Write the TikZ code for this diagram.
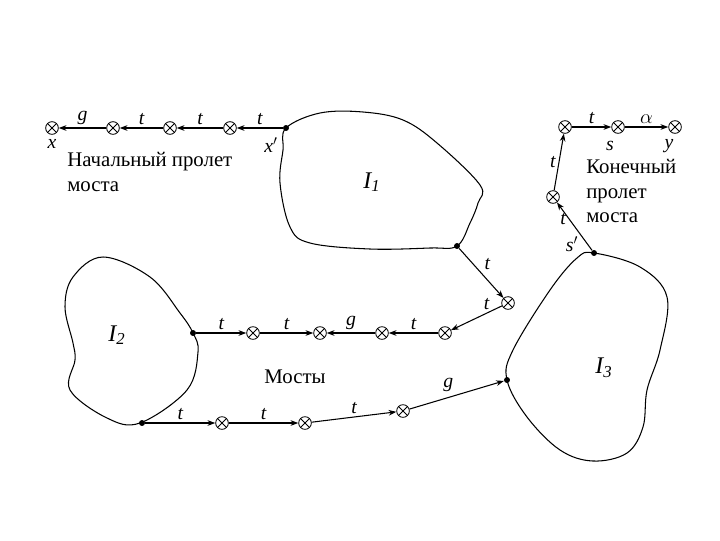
\documentclass[tikz,border=0pt]{standalone}
\usepackage{fontspec}
\setmainfont{Liberation Serif}
\usetikzlibrary{arrows.meta}
\tikzset{
    bridgept/.style={circle,draw,semithick,inner sep=0pt,minimum size=9pt,
        path picture={\draw[semithick] (path picture bounding box.north west) -- (path picture bounding box.south east)
            (path picture bounding box.north east) -- (path picture bounding box.south west);}},
    endpt/.style={circle,fill=black,inner sep=1.5pt},
    link/.style={->,line width=0.75pt},
    island/.style={line width=0.75pt},
    edgelbl/.style={font=\fontsize{14}{16}\selectfont\itshape,inner sep=2pt},
    islandlbl/.style={font=\fontsize{17}{19}\selectfont\itshape,inner sep=0pt},
    notetext/.style={font=\rmfamily\fontsize{14.8}{17.5}\selectfont,align=left,inner sep=0pt}
}

\begin{document}
\begin{tikzpicture}[x=0.025cm,y=-0.025cm,>={Stealth[length=5.5pt,width=4pt]}]
    \useasboundingbox (0,0) rectangle (720,540);
    % Islands
    \draw[island] plot[smooth cycle,tension=0.6] coordinates {(286,128) (320,113) (363,112) (403,120) (437,143) (480,185) (478,203) (470,223) (457,246) (430,248) (370,249) (310,243) (290,227) (280,183) (283,150)};
    \draw[island] plot[smooth cycle,tension=0.6] coordinates {(103,257) (150,277) (180,313) (193,333) (198,352) (187,390) (140,423) (107,418) (70,390) (75,360) (73,343) (65,307) (73,277)};
    \draw[island] plot[smooth cycle,tension=0.6] coordinates {(594,253) (640,267) (667,297) (660,350) (647,390) (643,427) (627,453) (593,461) (560,450) (527,417) (507,380) (513,350) (550,290) (577,258)};
    \node[islandlbl] (i1) at (372,182) {I\textsubscript{1}};
    \node[islandlbl] (i2) at (117,335) {I\textsubscript{2}};
    \node[islandlbl] (i3) at (604,368) {I\textsubscript{3}};
    % Start span
    \node[endpt] (xp) at (286,128) {};
    \node[bridgept] (a1) at (230,128) {};
    \node[bridgept] (a2) at (170,128) {};
    \node[bridgept] (a3) at (113,128) {};
    \node[bridgept] (x) at (52,128) {};
    \draw[link] (xp) -- node[edgelbl,above] {t} (a1);
    \draw[link] (a1) -- node[edgelbl,above] {t} (a2);
    \draw[link] (a2) -- node[edgelbl,above] {t} (a3);
    \draw[link] (a3) -- node[edgelbl,above] {g} (x);
    \node[edgelbl] (xlbl) at (52,144) {x};
    \node[edgelbl] (xplbl) at (271,145) {x$'$};
    \node[notetext,anchor=north west] (start) at (67,152) {Начальный пролет\\моста};
    % Bridges
    \node[endpt] (d1) at (457,246) {};
    \node[bridgept] (m1) at (508,303) {};
    \node[bridgept] (m2) at (445,333) {};
    \node[bridgept] (m3) at (382,333) {};
    \node[bridgept] (m4) at (320,333) {};
    \node[bridgept] (m5) at (253,333) {};
    \node[endpt] (d2) at (193,333) {};
    \draw[link] (d1) -- node[edgelbl,above right] {t} (m1);
    \draw[link] (m1) -- node[edgelbl,above,pos=0.3] {t} (m2);
    \draw[link] (m2) -- node[edgelbl,above] {t} (m3);
    \draw[link] (m3) -- node[edgelbl,above] {g} (m4);
    \draw[link] (d2) -- node[edgelbl,above] {t} (m5);
    \draw[link] (m5) -- node[edgelbl,above] {t} (m4);
    \node[notetext] (bridges) at (295,377) {Мосты};
    \node[endpt] (d3) at (142,423) {};
    \node[bridgept] (b1) at (222,423) {};
    \node[bridgept] (b2) at (305,423) {};
    \node[bridgept] (b3) at (403,411) {};
    \node[endpt] (d4) at (507,380) {};
    \draw[link] (d3) -- node[edgelbl,above] {t} (b1);
    \draw[link] (b1) -- node[edgelbl,above] {t} (b2);
    \draw[link] (b2) -- node[edgelbl,above] {t} (b3);
    \draw[link] (b3) -- node[edgelbl,above left] {g} (d4);
    % End span
    \node[endpt] (sp) at (594,253) {};
    \node[bridgept] (e1) at (553,197) {};
    \node[bridgept] (e2) at (565,127) {};
    \node[bridgept] (s) at (618,127) {};
    \node[bridgept] (y) at (675,127) {};
    \draw[link] (sp) -- node[edgelbl,left,pos=0.65] {t} (e1);
    \draw[link] (e1) -- node[edgelbl,left] {t} (e2);
    \draw[link] (e2) -- node[edgelbl,above] {t} (s);
    \draw[link] (s) -- node[edgelbl,above] {$\alpha$} (y);
    \node[edgelbl] (slbl) at (610,146) {s};
    \node[edgelbl] (ylbl) at (669,146) {y};
    \node[edgelbl] (splbl) at (572,244) {s$'$};
    \node[notetext,anchor=north west] (finish) at (586,159) {Конечный\\пролет\\моста};
\end{tikzpicture}
\end{document}
